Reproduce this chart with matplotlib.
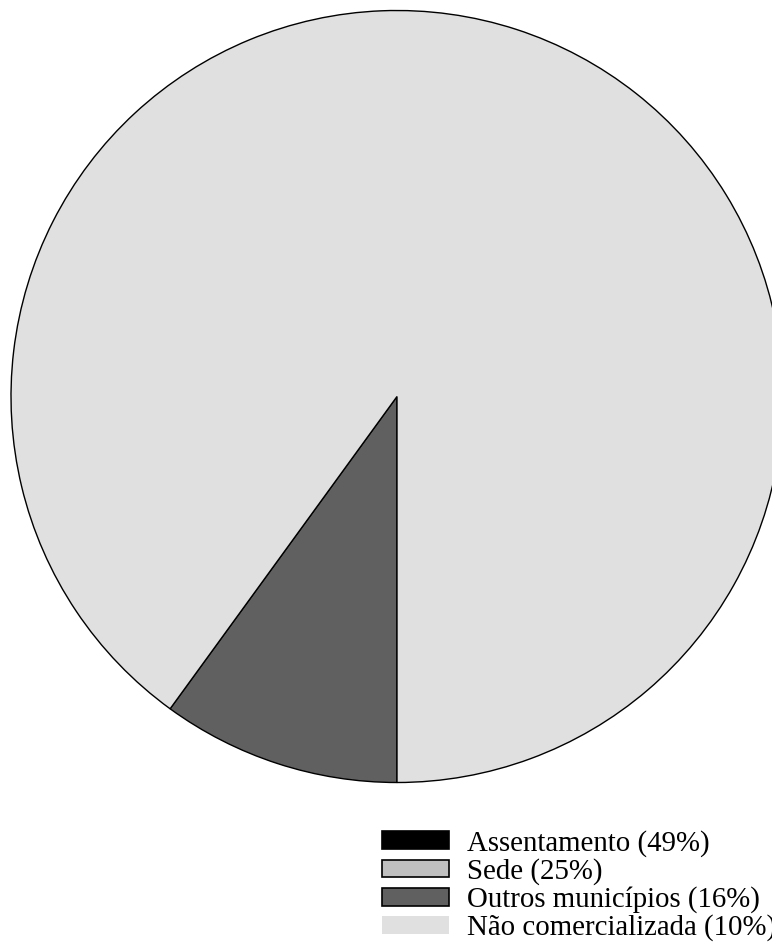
import matplotlib.pyplot as plt
from matplotlib.patches import Patch

# legend entries and their shares
categories = ["Assentamento", "Sede", "Outros municípios", "Não comercializada"]
shares = [49, 25, 16, 10]
legend_colors = ["#000000", "#c0c0c0", "#606060", "#e0e0e0"]
legend_edges = ["#000000", "#000000", "#000000", "none"]

# slices as drawn in the pie
pie_values = [10, 90]
pie_colors = ["#606060", "#e0e0e0"]

W, H = 772, 942
fig = plt.figure(figsize=(W / 100, H / 100), dpi=100)
ax = fig.add_axes([0, 0, 1, 1])

ax.pie(pie_values, colors=pie_colors, center=(397, H - 396.5), radius=386,
       startangle=234, counterclock=True, frame=True,
       wedgeprops=dict(edgecolor="black", linewidth=1.0))
ax.set_xlim(0, W)
ax.set_ylim(0, H)
ax.set_aspect("equal")
ax.axis("off")

handles = [Patch(facecolor=c, edgecolor=e, linewidth=1.2)
           for c, e in zip(legend_colors, legend_edges)]
labels = [f"{c} ({s}%)" for c, s in zip(categories, shares)]
fig.legend(handles, labels, loc="upper left",
           bbox_to_anchor=(382 / W, 1 - 830 / H),
           frameon=False, prop={"family": "Liberation Serif", "size": 20.8},
           handlelength=2.32, handleheight=0.58, handletextpad=0.63,
           labelspacing=0.04, borderaxespad=0, borderpad=0)

fig.savefig("out.png", dpi=100)
